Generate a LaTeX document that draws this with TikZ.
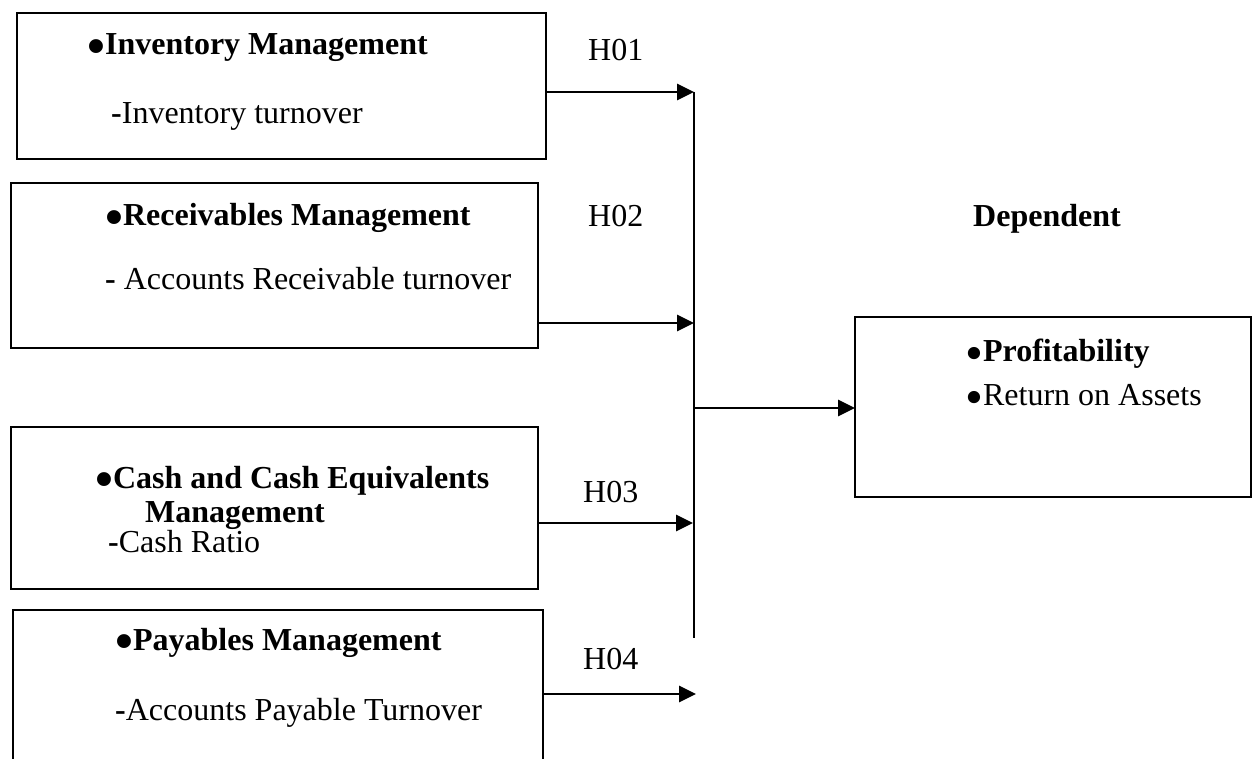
\documentclass[tikz,border=0pt]{standalone}
\usepackage{fontspec}
\setmainfont{Liberation Serif}
\usetikzlibrary{arrows.meta}
\newcommand\bul{\smash{\raisebox{-0.26em}{\scalebox{1.6}{•}}}}
\begin{document}
\begin{tikzpicture}[x=1pt,y=-1pt,
  box/.style={draw, line width=1.6pt, anchor=north west, inner sep=0pt, outer sep=0pt},
  openbox/.style={anchor=north west, inner sep=0pt, outer sep=0pt},
  boxline/.style={line width=1.6pt},
  txt/.style={anchor=base west, inner sep=0pt, font=\fontsize{32}{38}\selectfont},
  btxt/.style={anchor=base west, inner sep=0pt, font=\fontsize{32}{38}\selectfont\bfseries},
  arr/.style={line width=2.8pt, -{Triangle[length=17pt,width=16pt]}},
  bus/.style={line width=1.3pt}]
\useasboundingbox (0,0) rectangle (1259,759);

% boxes
\node[box, minimum width=529pt, minimum height=146pt] (b1) at (17,13) {};
\node[box, minimum width=527pt, minimum height=165pt] (b2) at (11,183) {};
\node[box, minimum width=527pt, minimum height=162pt] (b3) at (11,427) {};
\node[openbox, minimum width=530pt, minimum height=160pt] (b4) at (13,610) {};
\draw[boxline] (b4.south west) -- (b4.north west) -- (b4.north east) -- (b4.south east);
\node[box, minimum width=396pt, minimum height=180pt] (bp) at (855,317) {};

% texts
\node[btxt] (t1a) at (87,55) {\bul Inventory Management};
\node[txt] (t1b) at (111,124) {\textbf{-}Inventory turnover};
\node[txt] (h1) at (588,61) {H01};

\node[btxt] (t2a) at (105,226) {\bul Receivables Management};
\node[txt] (t2b) at (105,290) {\textbf{-} Accounts Receivable turnover};
\node[txt] (h2) at (588,227) {H02};

\node[btxt] (t3a) at (95,488) {\bul Cash and Cash Equivalents};
\node[btxt] (t3b) at (145,522) {Management};
\node[txt] (t3c) at (108,552) {\textbf{-}Cash Ratio};
\node[txt] (h3) at (583,502) {H03};

\node[btxt] (t4a) at (115,650) {\bul Payables Management};
\node[txt] (t4b) at (115,720) {\textbf{-}Accounts Payable Turnover};
\node[txt] (h4) at (583,669) {H04};

\node[btxt] (dep) at (973,227) {Dependent};
\node[txt] (tpa) at (965,362) {\bul\textbf{Profitability}};
\node[txt] (tpb) at (965,406) {\bul Return on Assets};

% connectors
\coordinate (j1) at (694,92);
\coordinate (j2) at (694,323);
\coordinate (j3) at (693,523);
\coordinate (j4) at (696,694);
\coordinate (jm) at (694,408);
\coordinate (jend) at (694,638);

\draw[arr] (b1.east |- j1) -- (j1);
\draw[arr] (b2.east |- j2) -- (j2);
\draw[arr] (b3.east |- j3) -- (j3);
\draw[arr] (b4.east |- j4) -- (j4);
\draw[bus] (j1) -- (jend);
\draw[arr] (jm) -- (bp.west |- jm);
\end{tikzpicture}
\end{document}
